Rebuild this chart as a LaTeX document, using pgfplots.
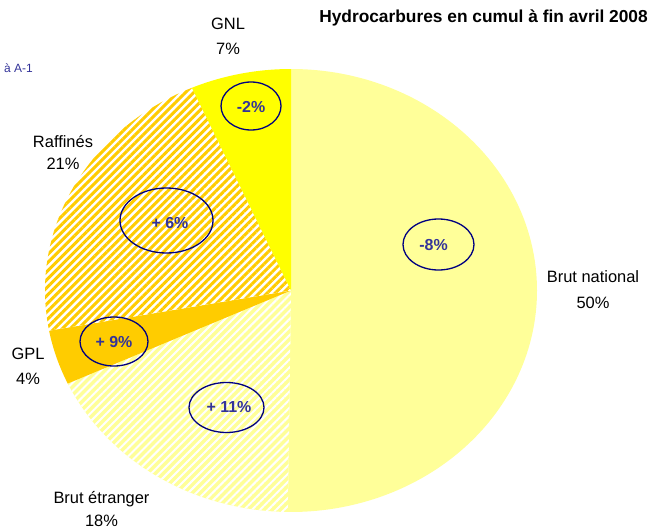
\documentclass[border=0pt]{standalone}
\usepackage{pgfplots}
\pgfplotsset{compat=1.18}
\usepackage{pgfplotstable}
\usetikzlibrary{patterns.meta}
\usepackage{fontspec}
\setmainfont{Liberation Sans}

\definecolor{bnat}{HTML}{FFFF99}
\definecolor{gold}{HTML}{FFCC00}
\definecolor{gnl}{HTML}{FFFF00}
\definecolor{ringc}{HTML}{000080}
\definecolor{pctc}{HTML}{333399}

% share of each slice (%), clockwise from 12 o'clock
\pgfplotstableread{
share
50.2
17.9
4.0
21.3
6.6
}\pietable

\tikzset{
  slice0/.style={fill=bnat},
  slice1/.style={fill=bnat,postaction={pattern={Lines[angle=45,distance=5.7bp,line width=2bp]},pattern color=white}},
  slice2/.style={fill=gold},
  slice3/.style={fill=white,postaction={pattern={Lines[angle=45,distance=5.7bp,line width=3bp]},pattern color=gold}},
  slice4/.style={fill=gnl},
  lab/.style={font=\fontsize{16.5}{19}\selectfont,anchor=base,inner sep=0pt},
  pct/.style={font=\fontsize{16}{19}\selectfont\bfseries,text=pctc,anchor=base,inner sep=0pt},
  ring/.style={draw=ringc,line width=1.3bp},
}

\begin{document}
\begin{tikzpicture}
\begin{axis}[hide axis,scale only axis,width=663bp,height=528bp,
  xmin=0,xmax=663,ymin=0,ymax=528,y dir=reverse,clip=false]
\coordinate (O) at (axis cs:0,528);
\coordinate (P) at (axis cs:663,0);
\pgfplotsextra{
  \gdef\acc{90}
  \foreach \i in {0,...,4} {
    \pgfplotstablegetelem{\i}{share}\of\pietable
    \pgfmathsetmacro\a{\acc}
    \pgfmathsetmacro\b{\acc-3.6*\pgfplotsretval}
    \fill[slice\i] (axis cs:291,290.5) -- ++(\a:246bp and 221.5bp)
      arc[start angle=\a,end angle=\b,x radius=246bp,y radius=221.5bp] -- cycle;
    \xdef\acc{\b}
  }
}
% change rings
\draw[ring] (axis cs:251,106) ellipse[x radius=30bp,y radius=24bp];
\draw[ring] (axis cs:166.5,220.5) ellipse[x radius=46.5bp,y radius=32.5bp];
\draw[ring] (axis cs:114,341.5) ellipse[x radius=34bp,y radius=24.5bp];
\draw[ring] (axis cs:226.5,407.5) ellipse[x radius=37.5bp,y radius=25bp];
\draw[ring] (axis cs:438.5,244.5) ellipse[x radius=35.5bp,y radius=25.5bp];
\node[pct] at (axis cs:251,112.5) {-2\%};
\node[pct] at (axis cs:170,228.5) {+ 6\%};
\node[pct] at (axis cs:114,347.5) {+ 9\%};
\node[pct] at (axis cs:229,412.5) {+ 11\%};
\node[pct] at (axis cs:433.5,250) {-8\%};
% slice labels
\node[lab] at (axis cs:228,30) {GNL};
\node[lab] at (axis cs:228,55) {7\%};
\node[lab] at (axis cs:63,147) {Raffinés};
\node[lab] at (axis cs:63,169) {21\%};
\node[lab] at (axis cs:28,359) {GPL};
\node[lab] at (axis cs:28,384) {4\%};
\node[lab] at (axis cs:101.5,503) {Brut étranger};
\node[lab] at (axis cs:101.5,526) {18\%};
\node[lab] at (axis cs:593,282) {Brut national};
\node[lab] at (axis cs:593,308) {50\%};
% title and note
\node[font=\fontsize{17.4}{20}\selectfont\bfseries,anchor=base east,inner sep=0pt] at (axis cs:648,23) {Hydrocarbures en cumul à fin avril 2008};
\node[font=\fontsize{12}{14}\selectfont,text=pctc,anchor=base west,inner sep=0pt] at (axis cs:4,73) {à A-1};
\end{axis}
\pgfresetboundingbox
\useasboundingbox (O) rectangle (P);
\end{tikzpicture}
\end{document}
